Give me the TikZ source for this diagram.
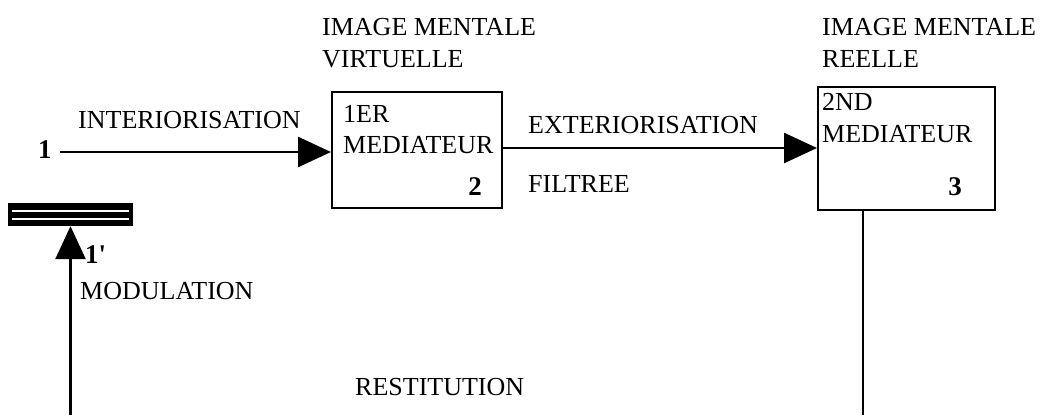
\documentclass[tikz,border=0pt]{standalone}
\usepackage{fontspec}
\setmainfont{Liberation Serif}
\usetikzlibrary{arrows.meta}
\begin{document}
\begin{tikzpicture}[x=1pt,y=-1pt,
  txt/.style={anchor=base west,inner sep=0pt,font=\fontsize{26}{30}\selectfont},
  txte/.style={anchor=base east,inner sep=0pt,font=\fontsize{27}{30}\selectfont\bfseries},
  txtb/.style={anchor=base west,inner sep=0pt,font=\fontsize{27}{30}\selectfont\bfseries},
  box/.style={draw,line width=2pt,inner sep=0pt},
  arr/.style={line width=2.6pt,-{Triangle[length=33pt,width=30pt]}},
  plain/.style={line width=2.4pt}]
\useasboundingbox (0,0) rectangle (1048,415);
% boxes
\node[box,minimum width=170pt,minimum height=116pt] (b1) at (417,150) {};
\node[box,minimum width=177pt,minimum height=123pt] (b2) at (906.5,148.5) {};
% bar
\node[fill=black,inner sep=0pt,minimum width=125pt,minimum height=23pt] (bar) at (70.5,214.5) {};
\draw[white,line width=2pt] ([xshift=4pt,yshift=4pt]bar.west) -- ([xshift=-4pt,yshift=4pt]bar.east);
\draw[white,line width=2pt] ([xshift=4pt,yshift=-4pt]bar.west) -- ([xshift=-4pt,yshift=-4pt]bar.east);
% texts
\node[txt] (t1) at (322,35) {IMAGE MENTALE};
\node[txt] (t2) at (322,67) {VIRTUELLE};
\node[txt] (t3) at (822,35) {IMAGE MENTALE};
\node[txt] (t4) at (822,67) {REELLE};
\node[txt] (t5) at (343,122) {1ER};
\node[txt] (t6) at (343,153) {MEDIATEUR};
\node[txte] (t7) at (482,195) {2};
\node[txt] (t8) at (822,110) {2ND};
\node[txt] (t9) at (822,142) {MEDIATEUR};
\node[txte] (t10) at (962,195) {3};
\node[txt] (t11) at (78,128) {INTERIORISATION};
\node[txtb] (t12) at (38,158) {1};
\node[txt] (t13) at (528,133) {EXTERIORISATION};
\node[txt] (t14) at (528,192) {FILTREE};
\node[txtb] (t15) at (85,263) {1\textquotesingle};
\node[txt] (t16) at (80,299) {MODULATION};
\node[txt] (t17) at (355,395) {RESTITUTION};
% connectors
\coordinate (a1) at (60,152);
\draw[arr] (a1) -- (a1 -| b1.west);
\coordinate (a2) at (502,148);
\draw[arr] (b1.east |- a2) -- (a2 -| b2.west);
\coordinate (c3) at (863,415);
\draw[plain] (c3 |- b2.south) -- (c3);
\coordinate (m) at (70.5,415);
\draw[arr] (m) -- (bar.south);
\end{tikzpicture}
\end{document}
